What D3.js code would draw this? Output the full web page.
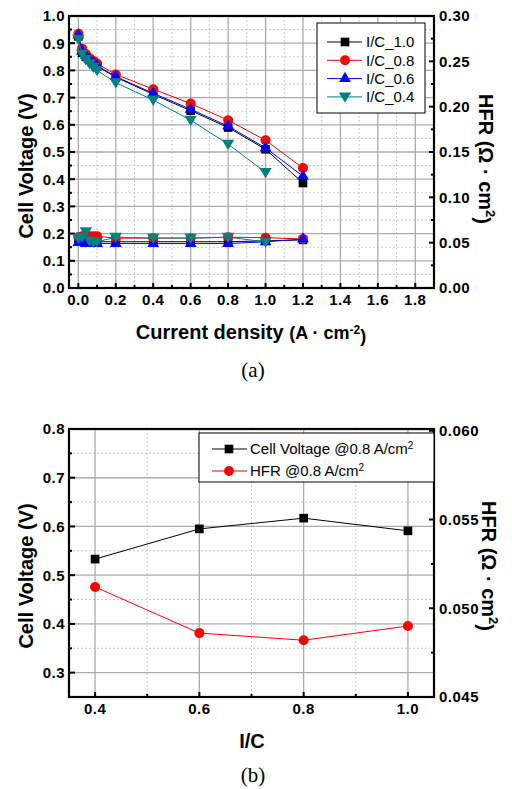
<!DOCTYPE html>
<html>
<head>
<meta charset="utf-8">
<script src="https://cdn.jsdelivr.net/npm/d3@7"></script>
<style>
  html, body { margin: 0; padding: 0; background: #fff; }
  svg { display: block; }
  text { font-family: "Liberation Sans", Arial, sans-serif; fill: #000; }
</style>
</head>
<body>
<svg id="fig" width="512" height="789"></svg>
<script>
// ---- Panel (a): polarization and HFR curves ----
const currentDensity = [0, 0.02, 0.04, 0.06, 0.08, 0.1, 0.2, 0.4, 0.6, 0.8, 1.0, 1.2];
const seriesNames = ["I/C_1.0", "I/C_0.8", "I/C_0.6", "I/C_0.4"];
const voltIC10 = [0.925, 0.865, 0.85, 0.84, 0.83, 0.815, 0.775, 0.712, 0.652, 0.59, 0.51, 0.386];
const voltIC08 = [0.935, 0.88, 0.86, 0.845, 0.835, 0.825, 0.785, 0.731, 0.678, 0.617, 0.543, 0.441];
const voltIC06 = [0.93, 0.87, 0.855, 0.84, 0.83, 0.818, 0.777, 0.716, 0.657, 0.595, 0.515, 0.411];
const voltIC04 = [0.915, 0.86, 0.84, 0.825, 0.812, 0.80, 0.755, 0.691, 0.617, 0.529, 0.425];
const hfrIC10 = [0.052, 0.052, 0.051, 0.051, 0.051, 0.051, 0.051, 0.051, 0.051, 0.051, 0.052, 0.053];
const hfrIC08 = [0.056, 0.057, 0.058, 0.057, 0.057, 0.057, 0.055, 0.055, 0.055, 0.056, 0.0555, 0.054];
const hfrIC06 = [0.050, 0.050, 0.049, 0.049, 0.049, 0.049, 0.049, 0.049, 0.049, 0.049, 0.051, 0.054];
const hfrIC04 = [0.055, 0.056, 0.062, 0.052, 0.051, 0.051, 0.056, 0.055, 0.055, 0.056, 0.051];
const xTicksA = [0, 0.2, 0.4, 0.6, 0.8, 1.0, 1.2, 1.4, 1.6, 1.8];
const yTicksA = [0, 0.1, 0.2, 0.3, 0.4, 0.5, 0.6, 0.7, 0.8, 0.9, 1.0];
const hfrTicksA = [0, 0.05, 0.10, 0.15, 0.20, 0.25, 0.30];

// ---- Panel (b): values at 0.8 A/cm2 vs I/C ratio ----
const icRatio = [0.4, 0.6, 0.8, 1.0];
const cellVoltage08 = [0.533, 0.595, 0.617, 0.591];
const hfr08 = [0.0512, 0.0486, 0.0482, 0.0490];
const xTicksB = [0.4, 0.6, 0.8, 1.0];
const yTicksB = [0.3, 0.4, 0.5, 0.6, 0.7, 0.8];
const hfrTicksB = [0.045, 0.050, 0.055, 0.060];

const svg = d3.select("#fig");
const colors = ["#000000", "#ff0000", "#0000ff", "#008080"];
const shapes = [d3.symbolSquare, d3.symbolCircle, d3.symbolTriangle, "down"];

function marker(g, shape, color, x, y, size) {
  if (shape === "down") {
    const s = size * 0.62;
    g.append("path")
      .attr("d", `M${x - s},${y - s * 0.72}L${x + s},${y - s * 0.72}L${x},${y + s * 0.95}Z`)
      .attr("fill", color);
  } else {
    const area = shape === d3.symbolSquare ? size * size * 0.75
      : shape === d3.symbolCircle ? Math.PI * (size * 0.5) ** 2 : size * size * 0.6;
    g.append("path")
      .attr("d", d3.symbol().type(shape).size(area)())
      .attr("transform", `translate(${x},${y})`)
      .attr("fill", color);
  }
}

function range(a, b, step) {
  const out = [];
  for (let v = a; v <= b + 1e-9; v += step) out.push(+v.toFixed(6));
  return out;
}

function frame(g, box, x, yL, yR, opt) {
  // grid
  const grid = g.append("g");
  opt.xMinor.forEach(v => grid.append("line")
    .attr("x1", x(v)).attr("x2", x(v)).attr("y1", box.top).attr("y2", box.bottom)
    .attr("stroke", "#c8c8c8").attr("stroke-width", 1).attr("stroke-dasharray", "2,2"));
  opt.yMinor.forEach(v => grid.append("line")
    .attr("x1", box.left).attr("x2", box.right).attr("y1", yL(v)).attr("y2", yL(v))
    .attr("stroke", "#c8c8c8").attr("stroke-width", 1).attr("stroke-dasharray", "2,2"));
  opt.xMajor.forEach(v => grid.append("line")
    .attr("x1", x(v)).attr("x2", x(v)).attr("y1", box.top).attr("y2", box.bottom)
    .attr("stroke", "#ababab").attr("stroke-width", 1.3));
  opt.yMajor.forEach(v => grid.append("line")
    .attr("x1", box.left).attr("x2", box.right).attr("y1", yL(v)).attr("y2", yL(v))
    .attr("stroke", "#ababab").attr("stroke-width", 1.3));

  const ticks = g.append("g").attr("stroke", "#000").attr("stroke-width", 2);
  opt.xMajor.forEach(v => ticks.append("line").attr("x1", x(v)).attr("x2", x(v))
    .attr("y1", box.bottom).attr("y2", box.bottom - 5));
  opt.xMinor.forEach(v => ticks.append("line").attr("x1", x(v)).attr("x2", x(v))
    .attr("y1", box.bottom).attr("y2", box.bottom - 3));
  opt.yMajor.forEach(v => ticks.append("line").attr("x1", box.left).attr("x2", box.left + 6)
    .attr("y1", yL(v)).attr("y2", yL(v)));
  opt.yMinor.forEach(v => ticks.append("line").attr("x1", box.left).attr("x2", box.left + 3)
    .attr("y1", yL(v)).attr("y2", yL(v)));
  opt.rMajor.forEach(v => ticks.append("line").attr("x1", box.right).attr("x2", box.right - 5)
    .attr("y1", yR(v)).attr("y2", yR(v)));
  opt.rMinor.forEach(v => ticks.append("line").attr("x1", box.right).attr("x2", box.right - 3)
    .attr("y1", yR(v)).attr("y2", yR(v)));

  g.append("rect").attr("x", box.left).attr("y", box.top)
    .attr("width", box.right - box.left).attr("height", box.bottom - box.top)
    .attr("fill", "none").attr("stroke", "#000").attr("stroke-width", 2.2);

  // tick labels
  const lab = g.append("g").style("font-weight", "bold").style("font-size", "15px")
    .style("letter-spacing", "0.5px");
  opt.xMajor.forEach(v => lab.append("text").attr("x", x(v)).attr("y", box.bottom + 17)
    .attr("text-anchor", "middle").text(opt.xFmt(v)));
  opt.yMajor.forEach(v => lab.append("text").attr("x", box.left - 4).attr("y", yL(v))
    .attr("dy", "0.36em").attr("text-anchor", "end").text(opt.yFmt(v)));
  opt.rMajor.forEach(v => lab.append("text").attr("x", box.right + 5).attr("y", yR(v))
    .attr("dy", "0.36em").attr("text-anchor", "start").text(opt.rFmt(v)));
}

function leftTitle(g, x, y) {
  g.append("text").attr("transform", `translate(${x},${y}) rotate(-90)`)
    .attr("text-anchor", "middle").style("font-weight", "bold").style("font-size", "20px")
    .text("Cell Voltage (V)");
}
function rightTitle(g, x, y) {
  const t = g.append("text").attr("transform", `translate(${x},${y}) rotate(90)`)
    .attr("text-anchor", "middle").style("font-weight", "bold").style("font-size", "20px");
  t.append("tspan").text("HFR (Ω · cm");
  t.append("tspan").attr("dy", "-0.5em").style("font-size", "13px").text("2");
  t.append("tspan").attr("dy", "0.5em").text(")");
}

// ================= Panel (a) =================
const boxA = { left: 69, right: 434, top: 16, bottom: 288 };
const xA = d3.scaleLinear().domain([-0.05, 1.9]).range([boxA.left, boxA.right]);
const yA = d3.scaleLinear().domain([0, 1.0]).range([boxA.bottom, boxA.top]);
const hA = d3.scaleLinear().domain([0, 0.3]).range([boxA.bottom, boxA.top]);
const gA = svg.append("g");

frame(gA, boxA, xA, yA, hA, {
  xMajor: xTicksA, xMinor: range(0.1, 1.9, 0.2),
  yMajor: yTicksA, yMinor: range(0.05, 0.95, 0.1),
  rMajor: hfrTicksA, rMinor: range(0.025, 0.275, 0.05),
  xFmt: d3.format(".1f"), yFmt: d3.format(".1f"), rFmt: d3.format(".2f")
});

const voltSeries = [voltIC10, voltIC08, voltIC06, voltIC04];
const hfrSeries = [hfrIC10, hfrIC08, hfrIC06, hfrIC04];
const plotA = gA.append("g");
voltSeries.forEach((vals, i) => {
  const g = plotA.append("g");
  const lineV = d3.line().x((d, j) => xA(currentDensity[j])).y(d => yA(d));
  const lineH = d3.line().x((d, j) => xA(currentDensity[j])).y(d => hA(d));
  g.append("path").attr("d", lineV(vals)).attr("fill", "none").attr("stroke", colors[i]).attr("stroke-width", 1);
  g.append("path").attr("d", lineH(hfrSeries[i])).attr("fill", "none").attr("stroke", colors[i]).attr("stroke-width", 1);
  vals.forEach((v, j) => marker(g, shapes[i], colors[i], xA(currentDensity[j]), yA(v), 10));
  hfrSeries[i].forEach((v, j) => marker(g, shapes[i], colors[i], xA(currentDensity[j]), hA(v), 10));
});

// legend (a)
const legA = gA.append("g");
legA.append("rect").attr("x", 317).attr("y", 23).attr("width", 108).attr("height", 90)
  .attr("fill", "#fff").attr("stroke", "#000").attr("stroke-width", 1);
seriesNames.forEach((name, i) => {
  const y = 42 + i * 18.3;
  legA.append("line").attr("x1", 327).attr("x2", 362).attr("y1", y).attr("y2", y)
    .attr("stroke", colors[i]).attr("stroke-width", 1);
  marker(legA, shapes[i], colors[i], 345, y, 10);
  legA.append("text").attr("x", 366).attr("y", y).attr("dy", "0.36em")
    .style("font-size", "15px").text(name);
});

leftTitle(gA, 33, 166);
rightTitle(gA, 479, 159);
const xtA = gA.append("text").attr("x", 251).attr("y", 339).attr("text-anchor", "middle")
  .style("font-weight", "bold");
xtA.append("tspan").style("font-size", "20px").text("Current density ");
xtA.append("tspan").style("font-size", "18px").text("(A · cm");
xtA.append("tspan").attr("dy", "-0.45em").style("font-size", "12px").text("-2");
xtA.append("tspan").attr("dy", "0.45em").style("font-size", "18px").text(")");
gA.append("text").attr("x", 253).attr("y", 377).attr("text-anchor", "middle")
  .style("font-family", "'Liberation Serif', 'Times New Roman', serif").style("font-size", "21px")
  .text("(a)");

// ================= Panel (b) =================
const boxB = { left: 69, right: 434, top: 429, bottom: 697 };
const xB = d3.scaleLinear().domain([0.35, 1.05]).range([boxB.left, boxB.right]);
const yB = d3.scaleLinear().domain([0.25, 0.8]).range([boxB.bottom, boxB.top]);
const hB = d3.scaleLinear().domain([0.045, 0.0601]).range([boxB.bottom, boxB.top]);
const gB = svg.append("g");

frame(gB, boxB, xB, yB, hB, {
  xMajor: xTicksB, xMinor: [0.5, 0.7, 0.9],
  yMajor: yTicksB, yMinor: range(0.25, 0.75, 0.1),
  rMajor: hfrTicksB, rMinor: [0.0475, 0.0525, 0.0575],
  xFmt: d3.format(".1f"), yFmt: d3.format(".1f"), rFmt: d3.format(".3f")
});

const plotB = gB.append("g");
plotB.append("path")
  .attr("d", d3.line().x((d, j) => xB(icRatio[j])).y(d => yB(d))(cellVoltage08))
  .attr("fill", "none").attr("stroke", "#000").attr("stroke-width", 1);
cellVoltage08.forEach((v, j) => marker(plotB, d3.symbolSquare, "#000", xB(icRatio[j]), yB(v), 10));
plotB.append("path")
  .attr("d", d3.line().x((d, j) => xB(icRatio[j])).y(d => hB(d))(hfr08))
  .attr("fill", "none").attr("stroke", "#ff0000").attr("stroke-width", 1);
hfr08.forEach((v, j) => marker(plotB, d3.symbolCircle, "#ff0000", xB(icRatio[j]), hB(v), 10));

// legend (b)
const legB = gB.append("g");
legB.append("rect").attr("x", 199).attr("y", 433).attr("width", 235).attr("height", 49)
  .attr("fill", "#fff").attr("stroke", "#000").attr("stroke-width", 1);
const legBItems = [
  { label: "Cell Voltage @0.8 A/cm", color: "#000", shape: d3.symbolSquare },
  { label: "HFR @0.8 A/cm", color: "#ff0000", shape: d3.symbolCircle }
];
legBItems.forEach((it, i) => {
  const y = 449 + i * 22;
  legB.append("line").attr("x1", 212).attr("x2", 247).attr("y1", y).attr("y2", y)
    .attr("stroke", it.color).attr("stroke-width", 1);
  marker(legB, it.shape, it.color, 229, y, 10);
  const t = legB.append("text").attr("x", 250).attr("y", y).attr("dy", "0.36em").style("font-size", "15px");
  t.append("tspan").text(it.label);
  t.append("tspan").attr("dy", "-0.5em").style("font-size", "10px").text("2");
});

leftTitle(gB, 33, 576);
rightTitle(gB, 482, 566);
gB.append("text").attr("x", 252).attr("y", 748).attr("text-anchor", "middle")
  .style("font-weight", "bold").style("font-size", "20px").text("I/C");
gB.append("text").attr("x", 253).attr("y", 782).attr("text-anchor", "middle")
  .style("font-family", "'Liberation Serif', 'Times New Roman', serif").style("font-size", "21px")
  .text("(b)");
</script>
</body>
</html>
